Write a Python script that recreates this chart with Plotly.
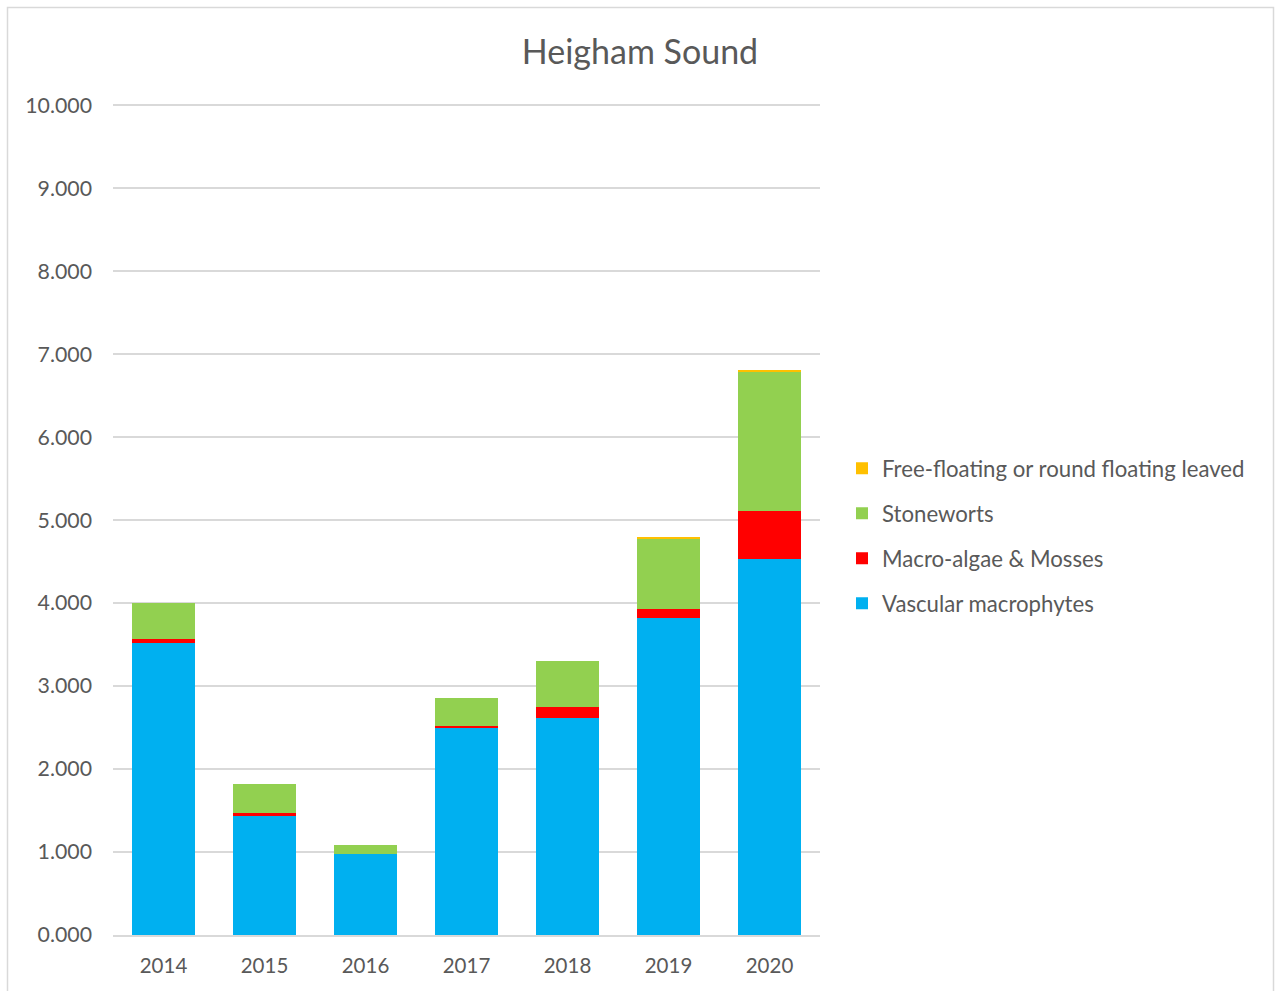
import plotly.graph_objects as go

# Survey years and plant-group cover values (stacked)
years = ["2014", "2015", "2016", "2017", "2018", "2019", "2020"]
vascular = [3.52, 1.43, 0.98, 2.505, 2.62, 3.82, 4.53]
macro_algae = [0.05, 0.036, 0.0, 0.015, 0.125, 0.105, 0.58]
stoneworts = [0.43, 0.35, 0.10, 0.33, 0.555, 0.85, 1.68]
free_floating = [0.0, 0.0, 0.0, 0.0, 0.0, 0.022, 0.015]

series = [
    ("Vascular macrophytes", vascular, "#00B0F0"),
    ("Macro-algae & Mosses", macro_algae, "#FF0000"),
    ("Stoneworts", stoneworts, "#92D050"),
    ("Free-floating or round floating leaved", free_floating, "#FFC000"),
]

FONT = "Lato"
TEXT = "#595959"
GRID = "#D9D9D9"

fig = go.Figure()
for i, (name, vals, color) in enumerate(series):
    fig.add_trace(go.Bar(
        x=years, y=vals, name=name,
        marker=dict(color=color, line=dict(width=0)),
        legendgroup=name, legendrank=1000 - i,
    ))

# plot area geometry in pixels (page is 1276 x 991); the top is padded a
# little past 10 so that the 10.000 gridline is kept
L, R, T, B = 113, 820, 103, 935
W, H = 1276, 991
YMAX = 10.025
def px(x):
    return (x - L) / (R - L)
def py(y):
    return (B - y) / (B - T)

fig.update_layout(
    width=W, height=H,
    margin=dict(l=L, r=W - R, t=T, b=H - B, pad=0),
    barmode="stack",
    bargap=0.37,
    paper_bgcolor="white",
    plot_bgcolor="white",
    font=dict(family=FONT, color=TEXT, size=20),
    title=dict(
        text="Heigham Sound",
        x=px(640), xref="paper", xanchor="center",
        y=1 - 52 / H, yanchor="middle",
        font=dict(size=34, color=TEXT, family=FONT),
    ),
    xaxis=dict(
        showgrid=False, showline=True, linecolor=GRID, linewidth=1.5,
        ticks="", tickfont=dict(size=20.5, color=TEXT), ticklabelstandoff=12,
    ),
    yaxis=dict(
        range=[0, YMAX], tickvals=list(range(11)), tickformat=".3f",
        showgrid=True, gridcolor=GRID, gridwidth=1.5,
        zeroline=False, showline=False, ticks="",
        tickfont=dict(size=21.3, color=TEXT), ticklabelstandoff=20,
    ),
    legend=dict(
        x=px(842), xanchor="left", y=py(468) + 0.025, yanchor="top",
        traceorder="grouped", tracegroupgap=13.2,
        font=dict(size=22.2, color=TEXT),
        itemwidth=30, bgcolor="rgba(0,0,0,0)",
    ),
    shapes=[dict(
        type="rect", xref="paper", yref="paper",
        x0=px(7.5), x1=px(1273.5), y0=py(1005), y1=py(7.5),
        line=dict(color=GRID, width=1.5), fillcolor="rgba(0,0,0,0)",
        layer="below",
    )],
)

fig.write_html("out.html")
